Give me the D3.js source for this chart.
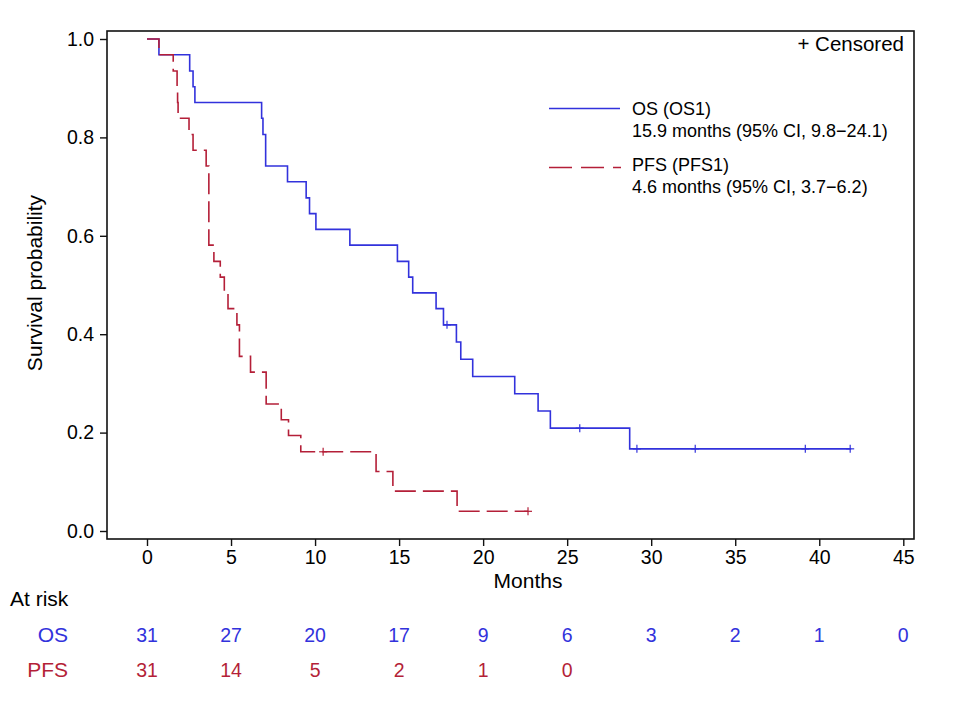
<!DOCTYPE html>
<html>
<head>
<meta charset="utf-8">
<script src="https://cdn.jsdelivr.net/npm/d3@7"></script>
<style>
  body { margin: 0; background: #fff; }
  text { font-family: "Liberation Sans", Arial, Helvetica, sans-serif; }
</style>
</head>
<body>
<div id="km"></div>
<script>

// Kaplan-Meier curves

// OS steps (time in months, survival after the step)
const osTimes = [0, 0.71, 2.54, 2.74, 2.85, 6.82, 6.9, 7.06, 8.36, 9.47, 9.67, 10.05,
  12.07, 14.9, 15.57, 15.81, 17.2, 17.64, 18.41, 18.67, 19.38, 21.88, 23.27, 24.0, 28.72, 41.9];
const osSurv = [1, 0.968, 0.935, 0.903, 0.871, 0.839, 0.806, 0.742, 0.710, 0.677, 0.645, 0.613,
  0.581, 0.548, 0.516, 0.484, 0.452, 0.419, 0.384, 0.349, 0.314, 0.279, 0.244, 0.209, 0.167, 0.167];
const osCensTimes = [17.85, 25.75, 29.15, 32.62, 39.17, 41.84];
const osCensSurv = [0.419, 0.209, 0.167, 0.167, 0.167, 0.167];

// PFS steps
const pfsTimes = [0, 0.71, 1.56, 1.79, 1.82, 1.85, 2.5, 2.74, 3.52, 3.68, 3.98, 4.36, 4.6, 4.82,
  5.35, 5.5, 6.16, 7.09, 7.99, 8.42, 9.15, 13.63, 14.63, 18.45, 22.67];
const pfsSurv = [1, 0.968, 0.935, 0.903, 0.871, 0.839, 0.806, 0.774, 0.742, 0.581, 0.548, 0.516, 0.484, 0.452,
  0.419, 0.355, 0.323, 0.258, 0.226, 0.194, 0.161, 0.121, 0.081, 0.040, 0.040];
const pfsCensTimes = [10.48, 22.67];
const pfsCensSurv = [0.161, 0.040];

// axis ticks and number at risk table
const xTicks = [0, 5, 10, 15, 20, 25, 30, 35, 40, 45];
const yTicks = [0, 0.2, 0.4, 0.6, 0.8, 1.0];
const osAtRisk = [31, 27, 20, 17, 9, 6, 3, 2, 1, 0];
const pfsAtRisk = [31, 14, 5, 2, 1, 0];

const width = 961;
const height = 704;
const frame = {left: 107, right: 914, top: 31, bottom: 539};
const blue = "#3232dc";
const red = "#b41f38";
const dash = "21,7";
const tickFont = "19.5px";
const labelFont = "21px";

const svg = d3.select("#km")
  .append("svg")
  .attr("width", width)
  .attr("height", height);

// scales: the frame extends a bit past the data range
const xScale = d3.scaleLinear()
  .domain([0, 45])
  .range([147, 903.3]);

const yScale = d3.scaleLinear()
  .domain([0, 1])
  .range([531, 39]);

// frame box
svg.append("rect")
  .attr("x", frame.left)
  .attr("y", frame.top)
  .attr("width", frame.right - frame.left)
  .attr("height", frame.bottom - frame.top)
  .attr("fill", "none")
  .attr("stroke", "#111")
  .attr("stroke-width", 1.6);

// y axis
const yAxis = svg.append("g")
  .attr("transform", `translate(${frame.left},0)`)
  .call(d3.axisLeft(yScale).tickValues(yTicks).tickFormat(d3.format(".1f")).tickSize(7).tickPadding(6));
yAxis.select(".domain").remove();
yAxis.selectAll("line").attr("stroke", "#111").attr("stroke-width", 1.4);
yAxis.selectAll("text").attr("font-size", tickFont).attr("fill", "#000")
  .style("font-family", "'Liberation Sans', Arial, sans-serif");

// x axis
const xAxis = svg.append("g")
  .attr("transform", `translate(0,${frame.bottom})`)
  .call(d3.axisBottom(xScale).tickValues(xTicks).tickSize(7).tickPadding(4));
xAxis.select(".domain").remove();
xAxis.selectAll("line").attr("stroke", "#111").attr("stroke-width", 1.4);
xAxis.selectAll("text").attr("font-size", tickFont).attr("fill", "#000")
  .style("font-family", "'Liberation Sans', Arial, sans-serif");

// axis titles
svg.append("text")
  .attr("x", 528)
  .attr("y", 588)
  .attr("text-anchor", "middle")
  .attr("font-size", labelFont)
  .text("Months");

svg.append("text")
  .attr("transform", `translate(42,283) rotate(-90)`)
  .attr("text-anchor", "middle")
  .attr("font-size", labelFont)
  .text("Survival probability");

// step curves
const step = d3.line()
  .x(d => xScale(d[0]))
  .y(d => yScale(d[1]))
  .curve(d3.curveStepAfter);

svg.append("path")
  .datum(d3.zip(osTimes, osSurv))
  .attr("d", step)
  .attr("fill", "none")
  .attr("stroke", blue)
  .attr("stroke-width", 1.6);

svg.append("path")
  .datum(d3.zip(pfsTimes, pfsSurv))
  .attr("d", step)
  .attr("fill", "none")
  .attr("stroke", red)
  .attr("stroke-width", 1.6)
  .attr("stroke-dasharray", dash);

// censor marks
const censor = function(times, surv, color) {
  svg.selectAll(null)
    .data(d3.zip(times, surv))
    .enter()
    .append("line")
      .attr("x1", d => xScale(d[0]))
      .attr("x2", d => xScale(d[0]))
      .attr("y1", d => yScale(d[1]) - 4)
      .attr("y2", d => yScale(d[1]) + 4)
      .attr("stroke", color)
      .attr("stroke-width", 1.2);
  svg.selectAll(null)
    .data(d3.zip(times, surv))
    .enter()
    .append("line")
      .attr("x1", d => xScale(d[0]) - 4)
      .attr("x2", d => xScale(d[0]) + 4)
      .attr("y1", d => yScale(d[1]))
      .attr("y2", d => yScale(d[1]))
      .attr("stroke", color)
      .attr("stroke-width", 1.2);
}
censor(osCensTimes, osCensSurv, blue);
censor(pfsCensTimes, pfsCensSurv, red);

// legend
svg.append("text")
  .attr("x", 904)
  .attr("y", 51)
  .attr("text-anchor", "end")
  .attr("font-size", "20.5px")
  .text("+ Censored");

svg.append("line")
  .attr("x1", 549).attr("x2", 620)
  .attr("y1", 108.5).attr("y2", 108.5)
  .attr("stroke", blue)
  .attr("stroke-width", 1.4);

svg.append("line")
  .attr("x1", 549).attr("x2", 621)
  .attr("y1", 167.5).attr("y2", 167.5)
  .attr("stroke", red)
  .attr("stroke-width", 1.4)
  .attr("stroke-dasharray", "23,9");

const legendText = [
  {y: 115, t: "OS (OS1)"},
  {y: 136.5, t: "15.9 months (95% CI, 9.8\u221224.1)"},
  {y: 171, t: "PFS (PFS1)"},
  {y: 192.5, t: "4.6 months (95% CI, 3.7\u22126.2)"}
];
svg.selectAll(".legtext")
  .data(legendText)
  .enter()
  .append("text")
    .attr("class", "legtext")
    .attr("x", 632)
    .attr("y", d => d.y)
    .attr("font-size", "18px")
    .text(d => d.t);

// number at risk table
svg.append("text")
  .attr("x", 10)
  .attr("y", 606)
  .attr("font-size", labelFont)
  .text("At risk");

svg.append("text")
  .attr("x", 68).attr("y", 641.5)
  .attr("text-anchor", "end")
  .attr("font-size", labelFont)
  .attr("fill", blue)
  .text("OS");

svg.append("text")
  .attr("x", 68).attr("y", 676.5)
  .attr("text-anchor", "end")
  .attr("font-size", labelFont)
  .attr("fill", red)
  .text("PFS");

svg.selectAll(".risk-os")
  .data(osAtRisk)
  .enter()
  .append("text")
    .attr("class", "risk-os")
    .attr("x", (d, i) => xScale(xTicks[i]))
    .attr("y", 641.5)
    .attr("text-anchor", "middle")
    .attr("font-size", tickFont)
    .attr("fill", blue)
    .text(d => d);

svg.selectAll(".risk-pfs")
  .data(pfsAtRisk)
  .enter()
  .append("text")
    .attr("class", "risk-pfs")
    .attr("x", (d, i) => xScale(xTicks[i]))
    .attr("y", 676.5)
    .attr("text-anchor", "middle")
    .attr("font-size", tickFont)
    .attr("fill", red)
    .text(d => d);

</script>
</body>
</html>
